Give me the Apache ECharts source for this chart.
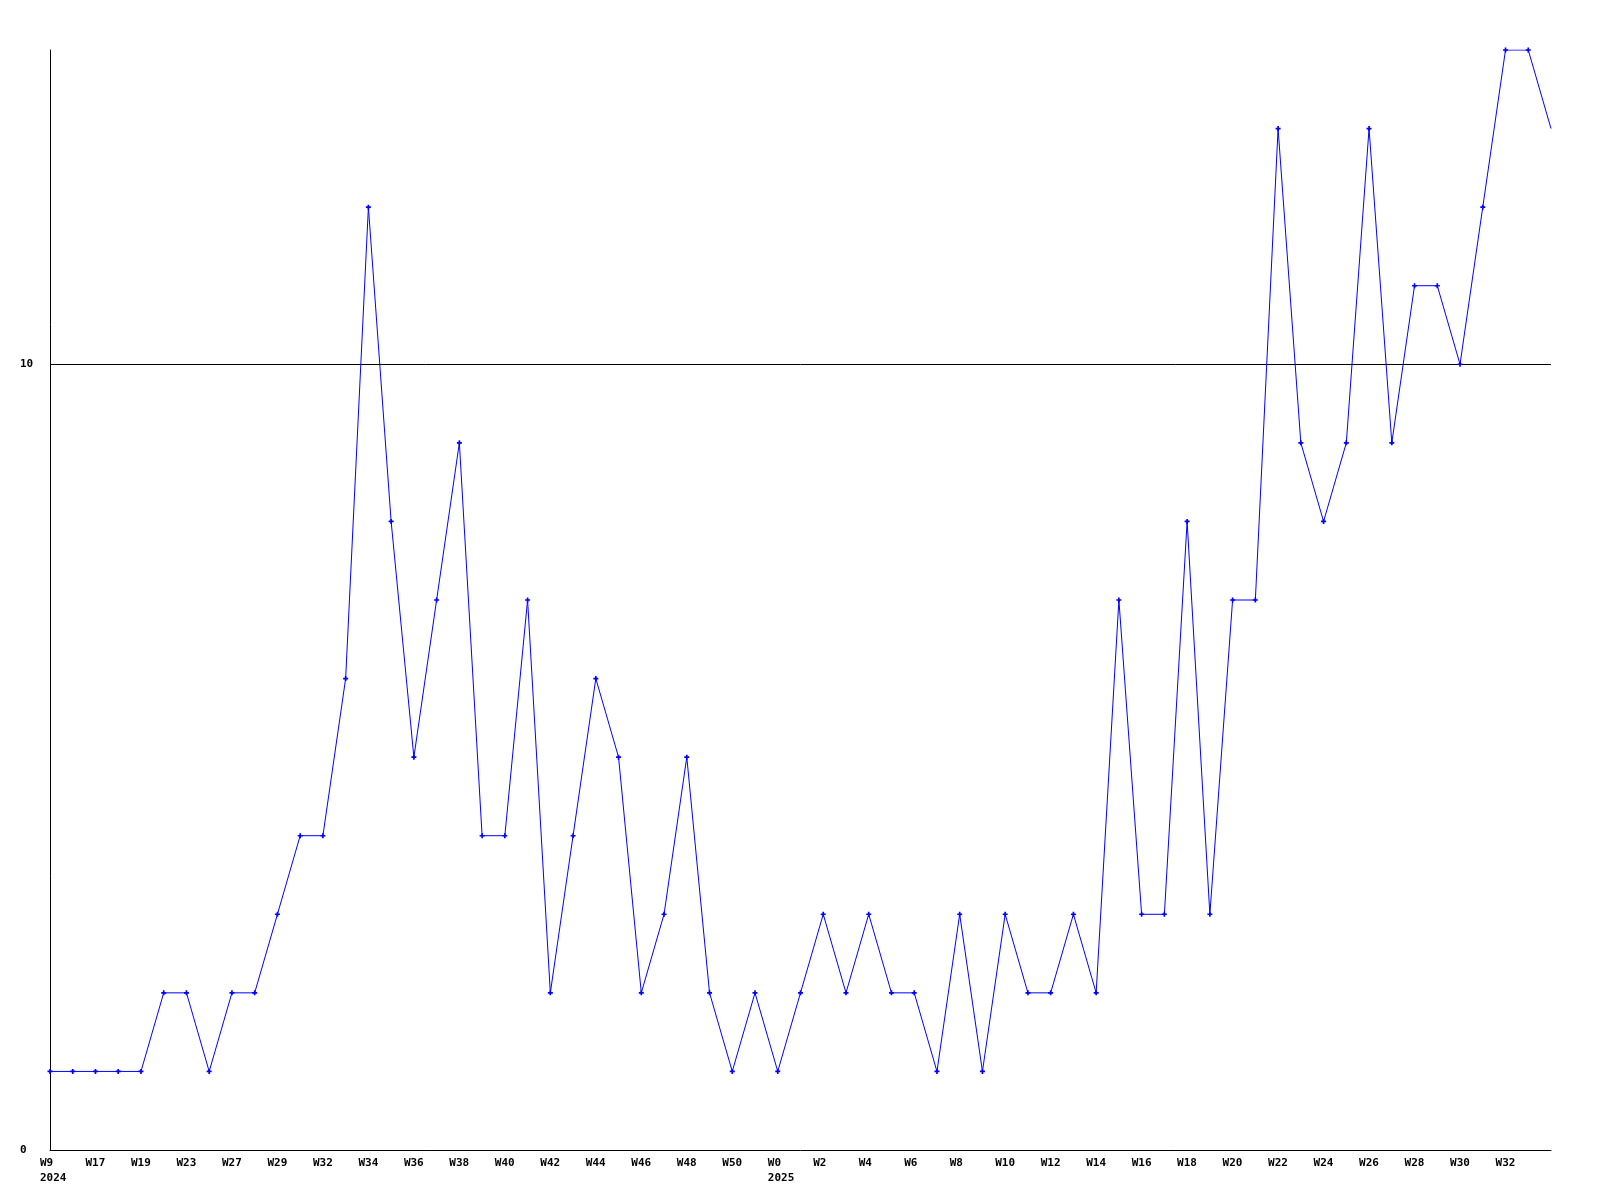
<!DOCTYPE html>
<html>
<head>
<meta charset="utf-8">
<script src="https://cdn.jsdelivr.net/npm/echarts@6/dist/echarts.min.js"></script>
<style>html,body{margin:0;padding:0;background:#fff;}#c{width:1600px;height:1200px;}</style>
</head>
<body>
<div id="c"></div>
<script>
const weeks = ['W9','W16','W17','W18','W19','W21','W23','W25','W27','W28','W29','W31','W32','W33','W34','W35','W36','W37','W38','W39','W40','W41','W42','W43','W44','W45','W46','W47','W48','W49','W50','W51','W0','W1','W2','W3','W4','W5','W6','W7','W8','W9','W10','W11','W12','W13','W14','W15','W16','W17','W18','W19','W20','W21','W22','W23','W24','W25','W26','W27','W28','W29','W30','W31','W32','W33','W34'];
const yearMarks = {0: '2024', 32: '2025'};
const values = [1,1,1,1,1,2,2,1,2,2,3,4,4,6,12,8,5,7,9,4,4,7,2,4,6,5,2,3,5,2,1,2,1,2,3,2,3,2,2,1,3,1,3,2,2,3,2,7,3,3,8,3,7,7,13,9,8,9,13,9,11,11,10,12,14,14,13];
const yTicks = [0, 10];

const seriesData = values.map(function (v, i) {
  return i === values.length - 1 ? {value: v, symbol: 'none'} : v;
});

const chart = echarts.init(document.getElementById('c'), null, {renderer: 'canvas'});
const font = 'DejaVu Sans Mono';
chart.setOption({
  animation: false,
  backgroundColor: '#ffffff',
  grid: {left: 50, right: 49, top: 50, bottom: 50, containLabel: false},
  xAxis: {
    type: 'category',
    data: weeks,
    boundaryGap: false,
    axisLine: {show: true, lineStyle: {color: '#000', width: 1}},
    axisTick: {show: false},
    axisLabel: {
      interval: 1,
      showMaxLabel: false,
      margin: 6,
      align: 'center',
      lineHeight: 15,
      formatter: function (v, i) {
        if (i === weeks.length - 1) return '';
        return yearMarks[i] ? '{a|' + v + '}\n{a|' + yearMarks[i] + '}' : '{a|' + v + '}';
      },
      rich: {a: {width: 20, align: 'left', fontFamily: font, fontWeight: 'bold', fontSize: 11, color: '#000', lineHeight: 15}}
    },
    splitLine: {show: false}
  },
  yAxis: {
    type: 'value',
    min: 0, max: 14, interval: 10,
    axisLine: {show: true, lineStyle: {color: '#000', width: 1}},
    axisTick: {show: false},
    axisLabel: {
      showMaxLabel: false,
      align: 'left', margin: 30,
      fontFamily: font, fontWeight: 'bold', fontSize: 11, color: '#000',
      formatter: function (v) { return yTicks.indexOf(v) >= 0 ? String(v) : ''; }
    },
    splitLine: {show: true, showMinLine: false, showMaxLine: false, lineStyle: {color: '#000', width: 1}}
  },
  series: [{
    type: 'line',
    data: seriesData,
    symbol: 'path://M1,0H2V1H3V2H2V3H1V2H0V1H1Z',
    symbolSize: 5,
    showSymbol: true,
    lineStyle: {color: '#0000ff', width: 1},
    itemStyle: {color: '#0000ff'},
    clip: true
  }]
});
</script>
</body>
</html>
